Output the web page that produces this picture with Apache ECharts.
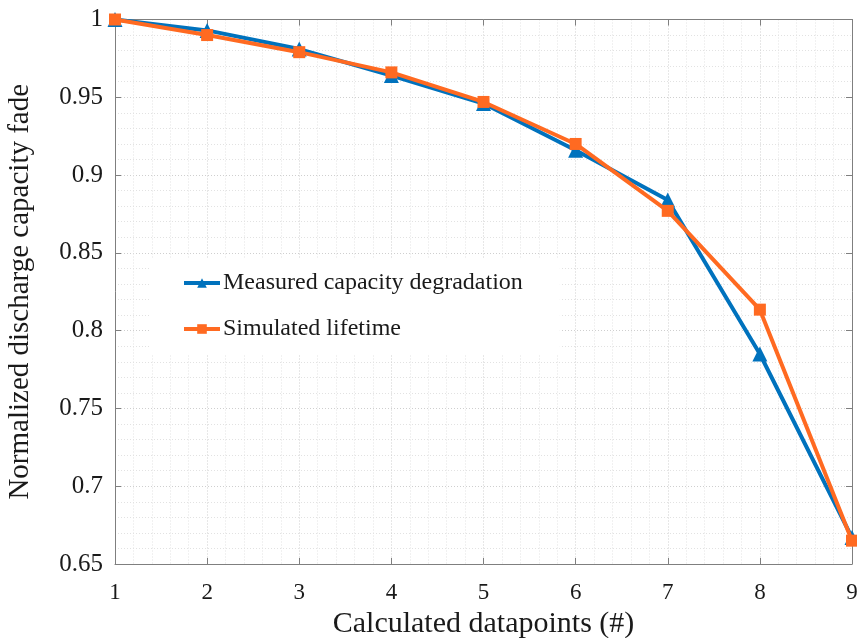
<!DOCTYPE html>
<html>
<head>
<meta charset="utf-8">
<script src="https://cdn.jsdelivr.net/npm/echarts@6/dist/echarts.min.js"></script>
<style>html,body{margin:0;padding:0;background:#fff}#c{width:857px;height:638px}</style>
</head>
<body>
<div id="c"></div>
<script>
const xValues = [1, 2, 3, 4, 5, 6, 7, 8, 9];
const measured = [1.000, 0.993, 0.981, 0.964, 0.946, 0.916, 0.884, 0.785, 0.667];
const simulated = [1.000, 0.990, 0.979, 0.966, 0.947, 0.920, 0.877, 0.8135, 0.665];
const seriesNames = ['Measured capacity degradation', 'Simulated lifetime'];
const xTitle = 'Calculated datapoints (#)';
const yTitle = 'Normalized discharge capacity fade';

const font = 'Liberation Serif';
const axisColor = '#7f7f7f';
const chart = echarts.init(document.getElementById('c'), null, {renderer: 'canvas'});

const baseX = {
  type: 'value', min: 1, max: 9, interval: 1,
  axisLine: {show: true, lineStyle: {color: axisColor, width: 1}},
  axisTick: {show: true, inside: true, length: 6, lineStyle: {color: axisColor}},
};
const baseY = {
  type: 'value', min: 0.65, max: 1, interval: 0.05,
  axisLine: {show: true, lineStyle: {color: axisColor, width: 1}},
  axisTick: {show: true, inside: true, length: 6, lineStyle: {color: axisColor}},
};

chart.setOption({
  animation: false,
  backgroundColor: '#fff',
  grid: {left: 115, right: 5, top: 19.5, bottom: 74, containLabel: false, outerBoundsMode: 'none'},
  xAxis: [
    Object.assign({}, baseX, {
      position: 'bottom',
      name: xTitle, nameLocation: 'middle', nameGap: 31,
      nameTextStyle: {fontFamily: font, fontSize: 30, color: '#1a1a1a', verticalAlign: 'top'},
      axisLabel: {fontFamily: font, fontSize: 23, color: '#1a1a1a', margin: 17},
      splitLine: {show: true, lineStyle: {color: '#cfcfcf', type: [1, 2], width: 1}},
      minorTick: {show: false, splitNumber: 5},
      minorSplitLine: {show: true, lineStyle: {color: '#e2e2e2', type: [1, 2], width: 1}}
    }),
    Object.assign({}, baseX, {
      position: 'top',
      axisLabel: {show: false},
      splitLine: {show: false}
    })
  ],
  yAxis: [
    Object.assign({}, baseY, {
      position: 'left',
      name: yTitle, nameLocation: 'middle', nameGap: 80,
      nameTextStyle: {fontFamily: font, fontSize: 29, color: '#1a1a1a'},
      axisLabel: {fontFamily: font, fontSize: 25, color: '#1a1a1a', margin: 12},
      splitLine: {show: true, lineStyle: {color: '#cfcfcf', type: [1, 2], width: 1}},
      minorTick: {show: false, splitNumber: 5},
      minorSplitLine: {show: true, lineStyle: {color: '#e2e2e2', type: [1, 2], width: 1}}
    }),
    Object.assign({}, baseY, {
      position: 'right',
      axisLabel: {show: false},
      splitLine: {show: false}
    })
  ],
  legend: {
    orient: 'vertical',
    left: 150, top: 258,
    backgroundColor: '#fff',
    padding: [12, 37, 12, 32],
    itemWidth: 36, itemHeight: 12, itemGap: 20,
    lineStyle: {width: 4},
    textStyle: {fontFamily: font, fontSize: 24, color: '#1a1a1a', padding: [0, 0, 0, -2], lineHeight: 26},
    data: seriesNames
  },
  series: [
    {
      name: seriesNames[0], type: 'line',
      xAxisIndex: 0, yAxisIndex: 0,
      data: xValues.map((x, i) => [x, measured[i]]),
      symbol: 'triangle', symbolSize: 15,
      lineStyle: {color: '#0072BD', width: 4},
      itemStyle: {color: '#0072BD'},
      z: 2
    },
    {
      name: seriesNames[1], type: 'line',
      xAxisIndex: 0, yAxisIndex: 0,
      data: xValues.map((x, i) => [x, simulated[i]]),
      symbol: 'rect', symbolSize: 12,
      lineStyle: {color: '#FF6A21', width: 4},
      itemStyle: {color: '#FF6A21'},
      z: 3
    }
  ]
});
</script>
</body>
</html>
